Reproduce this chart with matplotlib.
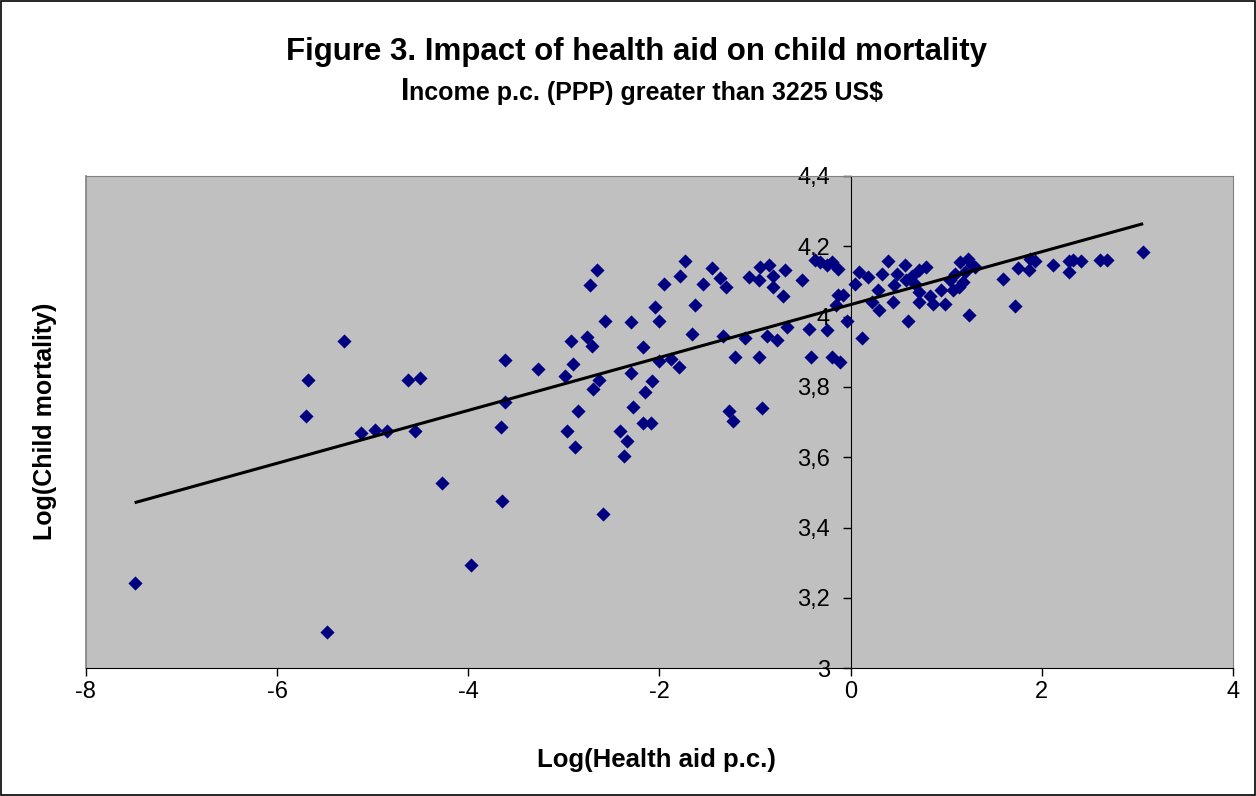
import numpy as np
import matplotlib
matplotlib.use("Agg")
import matplotlib.pyplot as plt
from matplotlib.ticker import FuncFormatter
from matplotlib.lines import Line2D
from matplotlib.patches import Rectangle

# Data (log health aid per capita vs log child mortality)
health_aid_log = [
    -7.49, -5.48, -5.30, -5.68, -5.70, -5.12, -4.98, -4.85, -4.63, -4.51,
    -4.56, -4.27, -3.97,
    -3.62, -3.62, -3.66, -3.65, -3.27, -2.99, -2.93, -2.90, -2.85, -2.97,
    -2.88, -2.76, -2.71, -2.73, -2.65, -2.70, -2.63, -2.57, -2.59, -2.41,
    -2.34, -2.37, -2.30, -2.30, -2.28, -2.17, -2.15, -2.17, -2.09, -2.08,
    -2.05, -2.00, -2.01, -1.95, -1.88, -1.80, -1.78, -1.73, -1.63, -1.66,
    -1.54, -1.45, -1.37, -1.30, -1.34, -1.21, -1.27, -1.23, -1.10, -1.06,
    -0.96, -0.95, -0.96, -0.93, -0.88, -0.85, -0.81, -0.81, -0.77, -0.71,
    -0.69, -0.67, -0.51, -0.44, -0.41, -0.37, -0.32, -0.25, -0.25, -0.20,
    -0.19, -0.13, -0.11, -0.13, -0.08, -0.15, -0.04, 0.05, 0.09, 0.12,
    0.18, 0.22, 0.29, 0.33, 0.39, 0.30, 0.45, 0.44, 0.49, 0.57,
    0.58, 0.60, 0.64, 0.67, 0.71, 0.72, 0.72, 0.79, 0.83, 0.86,
    0.95, 0.99, 1.04, 1.07, 1.09, 1.13, 1.14, 1.18, 1.20, 1.23,
    1.24, 1.27, 1.30, 1.59, 1.72, 1.75, 1.87, 1.88, 1.93, 2.12,
    2.28, 2.28, 2.33, 2.41, 2.61, 2.68, 3.06,
]
child_mortality_log = [
    3.244, 3.102, 3.930, 3.821, 3.717, 3.668, 3.677, 3.675, 3.821, 3.826,
    3.675, 3.526, 3.293,
    3.876, 3.757, 3.685, 3.476, 3.852, 3.831, 3.930, 3.866, 3.732, 3.675,
    3.630, 3.942, 3.916, 4.089, 4.134, 3.793, 3.819, 3.989, 3.438, 3.675,
    3.647, 3.603, 3.984, 3.840, 3.743, 3.914, 3.786, 3.698, 3.698, 3.817,
    4.027, 3.989, 3.874, 4.094, 3.881, 3.857, 4.115, 4.158, 4.034, 3.950,
    4.094, 4.139, 4.111, 4.084, 3.945, 3.885, 3.732, 3.704, 3.938, 4.112,
    3.885, 4.141, 4.105, 3.741, 3.945, 4.146, 4.117, 4.084, 3.933, 4.058,
    4.132, 3.970, 4.103, 3.966, 3.885, 4.160, 4.155, 4.146, 3.961, 3.885,
    4.155, 4.136, 3.871, 4.062, 4.061, 4.032, 3.989, 4.094, 4.127, 3.939,
    4.112, 4.041, 4.077, 4.122, 4.158, 4.018, 4.089, 4.041, 4.122, 4.146,
    4.103, 3.989, 4.117, 4.094, 4.132, 4.070, 4.041, 4.141, 4.060, 4.037,
    4.075, 4.035, 4.103, 4.075, 4.122, 4.084, 4.155, 4.098, 4.127, 4.165,
    4.004, 4.146, 4.141, 4.108, 4.029, 4.139, 4.133, 4.164, 4.159, 4.147,
    4.158, 4.127, 4.160, 4.158, 4.162, 4.162, 4.184,
]

x_ticks = [-8, -6, -4, -2, 0, 2, 4]
y_ticks = [3.0, 3.2, 3.4, 3.6, 3.8, 4.0, 4.2, 4.4]

title = "Figure 3. Impact of health aid on child mortality"
subtitle_first = "I"
subtitle_rest = "ncome p.c. (PPP) greater than 3225 US$"


def comma_fmt(v, pos):
    return f"{v:g}".replace(".", ",")


def main():
    plt.rcParams['font.family'] = ['Liberation Sans', 'DejaVu Sans']
    plt.rcParams['axes.unicode_minus'] = False

    fig = plt.figure(figsize=(12.56, 7.96), dpi=100, facecolor='white')
    ax = fig.add_axes([0.0684, 0.1604, 0.9133, 0.6185])
    ax.set_facecolor('#c0c0c0')

    x = np.array(health_aid_log)
    y = np.array(child_mortality_log)
    ax.scatter(x, y, marker='D', s=52, c='#000080', linewidths=0, zorder=3)

    # linear trend line over the data range
    slope, intercept = np.polyfit(x, y, 1)
    xs = np.array([x.min(), x.max()])
    ax.plot(xs, intercept + slope * xs, color='black', lw=2.2, zorder=4,
            solid_capstyle='butt')

    ax.set_xlim(-8, 4)
    ax.set_ylim(3, 4.4)
    ax.set_xticks(x_ticks)
    ax.set_yticks(y_ticks)
    ax.xaxis.set_major_formatter(FuncFormatter(comma_fmt))
    ax.yaxis.set_major_formatter(FuncFormatter(comma_fmt))

    # y axis crosses at x = 0, plot frame drawn in grey
    ax.spines['left'].set_position(('data', 0))
    ax.spines['left'].set_color('black')
    ax.spines['bottom'].set_color('black')
    for side in ['top', 'right']:
        ax.spines[side].set_color('#808080')
    ax.add_line(Line2D([0, 0], [0, 1], transform=ax.transAxes,
                       color='#808080', lw=1.2, clip_on=False))
    ax.tick_params(axis='y', direction='out', length=6, width=1,
                   labelsize=17, pad=9, colors='black')
    ax.tick_params(axis='x', direction='out', length=6, width=1,
                   labelsize=17, pad=3, colors='black')

    fig.text(0.5064, 1 - 60 / 796, title, ha='center', va='baseline',
             fontsize=22.5, fontweight='bold')

    # subtitle with the oversized first letter
    renderer = fig.canvas.get_renderer()
    base_y = 1 - 100 / 796
    t_first = fig.text(0, base_y, subtitle_first, ha='left', va='baseline',
                       fontsize=22, fontweight='bold')
    t_rest = fig.text(0, base_y, subtitle_rest, ha='left', va='baseline',
                      fontsize=18, fontweight='bold')
    w_first = t_first.get_window_extent(renderer).width / fig.bbox.width
    w_rest = t_rest.get_window_extent(renderer).width / fig.bbox.width
    start = 0.511 - (w_first + w_rest) / 2
    t_first.set_x(start)
    t_rest.set_x(start + w_first)

    fig.text(0.523, 1 - 760 / 796, "Log(Health aid p.c.)", ha='center',
             va='center', fontsize=18.5, fontweight='bold')
    fig.text(45 / 1256, 1 - 421 / 796, "Log(Child mortality)", ha='center',
             va='center', rotation=90, fontsize=18, fontweight='bold')

    # thin outer border of the chart
    fig.patches.append(Rectangle((0.0008, 0.0012), 0.9984, 0.9976,
                                 transform=fig.transFigure, fill=False,
                                 edgecolor='black', lw=1.2))

    fig.savefig("out.png", dpi=100, facecolor='white')


if __name__ == "__main__":
    main()
